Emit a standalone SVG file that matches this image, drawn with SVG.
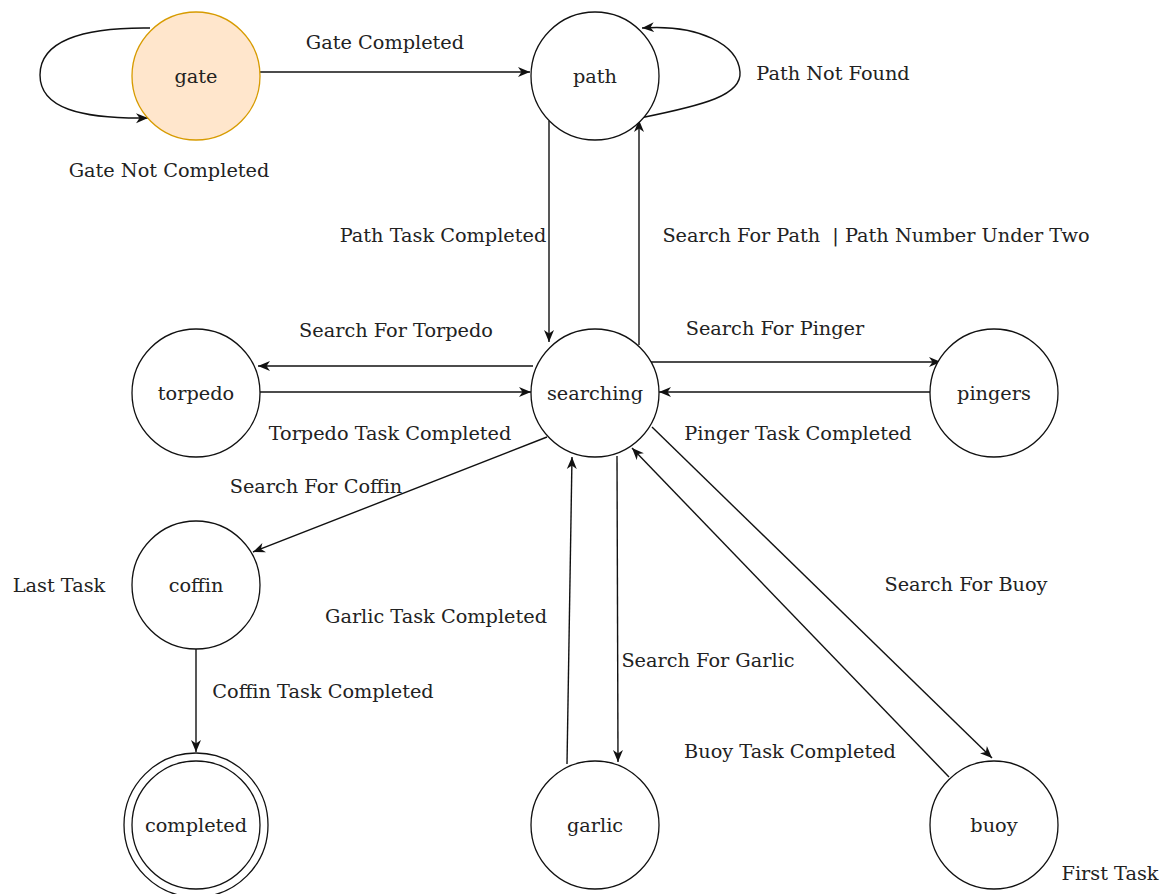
<svg xmlns="http://www.w3.org/2000/svg" width="1160" height="894" viewBox="0 0 1160 894">
<style>
.n{fill:#fff;stroke:#111;stroke-width:1.3}
.g{fill:#ffe6cc;stroke:#d79b00;stroke-width:1.3}
.e{fill:none;stroke:#111;stroke-width:1.4}
text{font-family:"DejaVu Serif",serif;font-size:19.3px;fill:#222;text-anchor:middle;dominant-baseline:central}
</style>
<defs>
<marker id="a" viewBox="0 0 13 11" refX="12" refY="5.5" markerWidth="13" markerHeight="11" markerUnits="userSpaceOnUse" orient="auto">
<path d="M0,0.5 L12,5.5 L0,10.5 L3.5,5.5 Z" fill="#111"/>
</marker>
</defs>
<rect width="1160" height="894" fill="#fff"/>
<g id="connectors">
<path class="e" marker-end="url(#a)" d="M260,72 L530,72"/>
<path class="e" marker-end="url(#a)" d="M150,28 C80,27 40,42 40,75 C40,108 80,119 148,118"/>
<path class="e" marker-end="url(#a)" d="M640,118 C705,105 742,95 740,72 C738,45 700,24 642,28"/>
<path class="e" marker-end="url(#a)" d="M549,121 L549,342"/>
<path class="e" marker-end="url(#a)" d="M639,345 L639,120"/>
<path class="e" marker-end="url(#a)" d="M533,366 L258,366"/>
<path class="e" marker-end="url(#a)" d="M260,392 L531,392"/>
<path class="e" marker-end="url(#a)" d="M651,362 L941,362"/>
<path class="e" marker-end="url(#a)" d="M930,392 L659,392"/>
<path class="e" marker-end="url(#a)" d="M547,437 L253,552"/>
<path class="e" marker-end="url(#a)" d="M196,649 L196,752"/>
<path class="e" marker-end="url(#a)" d="M567,764 L572,457"/>
<path class="e" marker-end="url(#a)" d="M617,456 L618,762"/>
<path class="e" marker-end="url(#a)" d="M652,427 L992,758"/>
<path class="e" marker-end="url(#a)" d="M949,777 L632,448"/>
</g>
<g id="labels">
<text x="385" y="42">Gate Completed</text>
<text x="169" y="170">Gate Not Completed</text>
<text x="833" y="73">Path Not Found</text>
<text x="443" y="235">Path Task Completed</text>
<text x="876" y="235" xml:space="preserve">Search For Path  | Path Number Under Two</text>
<text x="396" y="330">Search For Torpedo</text>
<text x="775" y="328">Search For Pinger</text>
<text x="390" y="433">Torpedo Task Completed</text>
<text x="798" y="433">Pinger Task Completed</text>
<text x="316" y="486">Search For Coffin</text>
<text x="59" y="585">Last Task</text>
<text x="436" y="616">Garlic Task Completed</text>
<text x="966" y="584">Search For Buoy</text>
<text x="708" y="660">Search For Garlic</text>
<text x="323" y="691">Coffin Task Completed</text>
<text x="790" y="751">Buoy Task Completed</text>
<text x="1110" y="873">First Task</text>
</g>
<g id="gate"><circle class="g" cx="196" cy="76" r="64"/><text x="196" y="76">gate</text></g>
<g id="path"><circle class="n" cx="595" cy="76" r="64"/><text x="595" y="76">path</text></g>
<g id="searching"><circle class="n" cx="595" cy="393" r="64"/><text x="595" y="393">searching</text></g>
<g id="torpedo"><circle class="n" cx="196" cy="393" r="64"/><text x="196" y="393">torpedo</text></g>
<g id="pingers"><circle class="n" cx="994" cy="393" r="64"/><text x="994" y="393">pingers</text></g>
<g id="coffin"><circle class="n" cx="196" cy="585" r="64"/><text x="196" y="585">coffin</text></g>
<g id="completed"><circle class="n" cx="196" cy="825" r="72"/><circle class="n" cx="196" cy="825" r="64"/><text x="196" y="825">completed</text></g>
<g id="garlic"><circle class="n" cx="595" cy="825" r="64"/><text x="595" y="825">garlic</text></g>
<g id="buoy"><circle class="n" cx="994" cy="825" r="64"/><text x="994" y="825">buoy</text></g>
</svg>
